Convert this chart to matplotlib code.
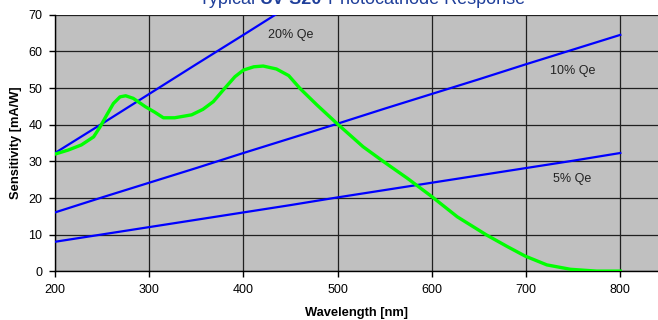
import matplotlib
matplotlib.use('Agg')
import matplotlib.pyplot as plt
import numpy as np

plt.rcParams['font.family'] = ['Liberation Sans', 'DejaVu Sans']

# photocathode response (green)
wl = [200, 214, 228, 241, 248, 255, 262, 269, 275, 283, 296, 306, 315, 327, 345,
      357, 368, 380, 391, 400, 411, 421, 435, 448, 460, 478, 499, 513, 527, 549,
      574, 600, 627, 658, 680, 699, 722, 747, 775, 800]
sens = [32.0, 33.1, 34.5, 36.7, 39.5, 42.7, 45.8, 47.6, 47.9, 47.2, 44.9, 43.4, 41.9, 41.9, 42.7,
        44.2, 46.3, 49.9, 53.1, 54.9, 55.8, 56.0, 55.2, 53.4, 49.9, 45.4, 40.4, 37.2, 34.0, 29.9,
        25.4, 20.4, 14.9, 9.95, 6.8, 4.2, 1.8, 0.6, 0.1, 0.1]

# constant quantum efficiency lines (blue)
qe_wl = [200, 250, 300, 350, 400, 450, 500, 550, 600, 650, 700, 750, 800]
qe20 = [32.3, 40.3, 48.4, 56.5, 64.5, 72.6]
qe10 = [16.1, 20.2, 24.2, 28.2, 32.3, 36.3, 40.3, 44.4, 48.4, 52.4, 56.5, 60.5, 64.5]
qe5 = [8.1, 10.1, 12.1, 14.1, 16.1, 18.1, 20.2, 22.2, 24.2, 26.2, 28.2, 30.2, 32.3]

fig = plt.figure(figsize=(6.58, 3.2), dpi=100)
ax = fig.add_axes([0.0836, 0.1516, 0.9164, 0.8025])
ax.set_facecolor('#C0C0C0')

ax.plot(qe_wl[:len(qe20)], qe20, color='#0000FF', lw=1.6, zorder=3)
ax.plot(qe_wl, qe10, color='#0000FF', lw=1.6, zorder=3)
ax.plot(qe_wl, qe5, color='#0000FF', lw=1.6, zorder=3)
ax.plot(wl, sens, color='#00FF00', lw=2.4, zorder=4, solid_joinstyle='round')

ax.text(450, 64.5, '20% Qe', ha='center', va='center', fontsize=9, color='#222222')
ax.text(749, 54.7, '10% Qe', ha='center', va='center', fontsize=9, color='#222222')
ax.text(749, 25.1, '5% Qe', ha='center', va='center', fontsize=9, color='#222222')

ax.set_xlim(200, 840)
ax.set_ylim(0, 70)
ax.set_xticks(range(200, 801, 100))
ax.set_yticks(range(0, 71, 10))
ax.grid(True, color='#202020', lw=0.9)
ax.set_axisbelow(True)
for s in ['top', 'right']:
    ax.spines[s].set_visible(False)
ax.spines['left'].set_linewidth(1.0)
ax.spines['bottom'].set_linewidth(1.0)
ax.tick_params(labelsize=9, length=4, width=1.0, colors='black', pad=5)

ax.set_xlabel('Wavelength [nm]', fontsize=9.3, fontweight='bold', labelpad=8)
ax.set_ylabel('Sensitivity [mA/W]', fontsize=9.3, fontweight='bold', labelpad=5)

# title, partly cut off at the top edge
tcol = '#1F3F9A'
parts = [('Typical ', 'normal'), ('UV-S20', 'bold'), (' Photocathode Response', 'normal')]
renderer = fig.canvas.get_renderer()
texts = []
x = 0
for s, w in parts:
    t = fig.text(x, 1 - 4 / 320, s, fontsize=13, fontweight=w, color=tcol, va='baseline', ha='left')
    bb = t.get_window_extent(renderer)
    texts.append(t)
    x += bb.width / fig.bbox.width
start = 362 / 658 - x / 2
x = start
for t in texts:
    bb = t.get_window_extent(renderer)
    t.set_x(x)
    x += bb.width / fig.bbox.width

fig.savefig('out.png', dpi=100)
